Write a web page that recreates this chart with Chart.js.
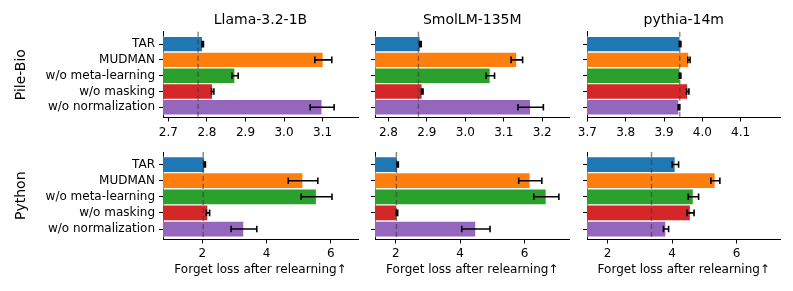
<!DOCTYPE html>
<html>
<head>
<meta charset="utf-8">
<script src="https://cdn.jsdelivr.net/npm/chart.js@4"></script>
<style>
  body { margin: 0; background: #fff; }
  #fig { position: relative; width: 793px; height: 291px; overflow: hidden; }
  #fig canvas { position: absolute; }
</style>
</head>
<body>
<div id="fig"></div>
<script>
// categories
const methods = ['TAR', 'MUDMAN', 'w/o meta-learning', 'w/o masking', 'w/o normalization'];
const models = ['Llama-3.2-1B', 'SmolLM-135M', 'pythia-14m'];
const corpora = ['Pile-Bio', 'Python'];

// Pile-Bio: forget loss after relearning, mean and error
const bioLlama = [2.789, 3.102, 2.873, 2.815, 3.099];
const bioLlamaErr = [0.002, 0.022, 0.008, 0.003, 0.031];
const bioSmol = [2.883, 3.134, 3.065, 2.888, 3.170];
const bioSmolErr = [0.002, 0.015, 0.011, 0.002, 0.033];
const bioPythia = [3.942, 3.965, 3.942, 3.962, 3.939];
const bioPythiaErr = [0.002, 0.003, 0.002, 0.003, 0.002];
const bioBase = [2.777, 2.878, 3.941];

// Python
const pyLlama = [2.08, 5.14, 5.56, 2.18, 3.30];
const pyLlamaErr = [0.02, 0.46, 0.48, 0.05, 0.40];
const pySmol = [2.06, 6.18, 6.68, 2.04, 4.49];
const pySmolErr = [0.02, 0.36, 0.39, 0.02, 0.44];
const pyPythia = [4.10, 5.34, 4.66, 4.57, 3.81];
const pyPythiaErr = [0.10, 0.14, 0.16, 0.11, 0.08];
const pyBase = [2.03, 2.02, 3.36];

// axis limits and tick labels
const bioLimits = [[2.686, 3.192], [2.765, 3.271], [3.699, 4.204]];
const pyLimits = [[0.78, 6.85], [1.355, 7.40], [1.36, 7.36]];
const bioTicks = [[2.7, 2.8, 2.9, 3.0, 3.1], [2.8, 2.9, 3.0, 3.1, 3.2], [3.7, 3.8, 3.9, 4.0, 4.1]];
const pyTicks = [[2, 4, 6], [2, 4, 6], [2, 4, 6]];

const colors = ['#1f77b4', '#ff7f0e', '#2ca02c', '#d62728', '#9467bd'];

Chart.defaults.font.family = "'DejaVu Sans', sans-serif";
Chart.defaults.color = '#000';

const grid = [
  { vals: [bioLlama, bioSmol, bioPythia], errs: [bioLlamaErr, bioSmolErr, bioPythiaErr],
    base: bioBase, lims: bioLimits, ticks: bioTicks, fmt: v => v.toFixed(1) },
  { vals: [pyLlama, pySmol, pyPythia], errs: [pyLlamaErr, pySmolErr, pyPythiaErr],
    base: pyBase, lims: pyLimits, ticks: pyTicks, fmt: v => String(v) }
];

// panel placement
const cols = [
  { left: 0, width: 360, yw: 163, padR: 2 },
  { left: 355, width: 217, yw: 20, padR: 2.5 },
  { left: 567, width: 217, yw: 20, padR: 3.5 }
];
const rows = [
  { top: 0, height: 142, padT: 0, xh: 24.5, bar: 15.8, tickPad: 4 },
  { top: 140, height: 151, padT: 12, xh: 51.5, bar: 16.1, tickPad: 3.5 }
];

// error bars + dashed reference line
const errorBars = {
  id: 'errorBars',
  afterDatasetsDraw(chart, args, opts) {
    const { ctx, chartArea: a, scales: { x } } = chart;
    const meta = chart.getDatasetMeta(0);
    ctx.save();
    const bx = x.getPixelForValue(opts.base);
    ctx.strokeStyle = 'rgba(60,60,60,0.6)';
    ctx.lineWidth = 1.5;
    ctx.setLineDash([5, 3]);
    ctx.beginPath();
    ctx.moveTo(bx, a.top);
    ctx.lineTo(bx, a.bottom);
    ctx.stroke();
    ctx.setLineDash([]);
    ctx.strokeStyle = '#000';
    ctx.lineWidth = 1.6;
    meta.data.forEach((bar, i) => {
      const v = opts.vals[i], e = opts.err[i];
      const x1 = x.getPixelForValue(v - e), x2 = x.getPixelForValue(v + e);
      const y = bar.y, c = 3.3;
      ctx.beginPath();
      ctx.moveTo(x1, y); ctx.lineTo(x2, y);
      ctx.moveTo(x1, y - c); ctx.lineTo(x1, y + c);
      ctx.moveTo(x2, y - c); ctx.lineTo(x2, y + c);
      ctx.stroke();
    });
    ctx.restore();
  }
};

const fig = document.getElementById('fig');

grid.forEach((g, r) => {
  cols.forEach((c, k) => {
    const row = rows[r];
    const cv = document.createElement('canvas');
    cv.width = c.width;
    cv.height = row.height;
    cv.style.left = c.left + 'px';
    cv.style.top = row.top + 'px';
    fig.appendChild(cv);

    new Chart(cv.getContext('2d'), {
      type: 'bar',
      data: {
        datasets: [{
          data: g.vals[k].map((v, i) => ({ x: v, y: i })),
          backgroundColor: colors,
          borderColor: 'rgba(255,255,255,0.5)',
          borderWidth: 1,
          barThickness: row.bar
        }]
      },
      options: {
        indexAxis: 'y',
        responsive: false,
        animation: false,
        layout: { padding: { top: row.padT, right: c.padR, bottom: 0, left: 0 } },
        scales: {
          x: {
            type: 'linear',
            min: g.lims[k][0],
            max: g.lims[k][1],
            afterBuildTicks: s => { s.ticks = g.ticks[k].map(v => ({ value: v })); },
            afterFit: s => { s.height = row.xh; },
            ticks: { font: { size: 12 }, padding: row.tickPad, maxRotation: 0, autoSkip: false, callback: v => g.fmt(v) },
            grid: { display: true, drawOnChartArea: false, drawTicks: true, tickLength: 4, tickColor: '#000' },
            border: { display: true, color: '#000', width: 1 },
            title: {
              display: r === 1,
              text: 'Forget loss after relearning\u2191',
              font: { size: 12 },
              padding: { top: 0, bottom: 13.5 }
            }
          },
          y: {
            type: 'linear',
            reverse: true,
            offset: false,
            min: -0.78,
            max: 4.65,
            afterBuildTicks: s => { s.ticks = methods.map((m, i) => ({ value: i })); },
            afterFit: s => { s.width = c.yw; },
            ticks: { font: { size: 12 }, padding: 4, autoSkip: false, callback: v => (k === 0 ? methods[v] : '') },
            grid: { display: true, offset: false, drawOnChartArea: false, drawTicks: true, tickLength: 4, tickColor: '#000' },
            border: { display: true, color: '#000', width: 1 },
            title: {
              display: k === 0,
              text: corpora[r],
              font: { size: 14 },
              padding: { top: 13.3, bottom: 0 }
            }
          }
        },
        plugins: {
          legend: { display: false },
          tooltip: { enabled: false },
          title: {
            display: r === 0,
            text: models[k],
            fullSize: false,
            font: { size: 14, weight: 'normal' },
            padding: { top: 12, bottom: 3 }
          },
          errorBars: { vals: g.vals[k], err: g.errs[k], base: g.base[k] }
        }
      },
      plugins: [errorBars]
    });
  });
});
</script>
</body>
</html>
